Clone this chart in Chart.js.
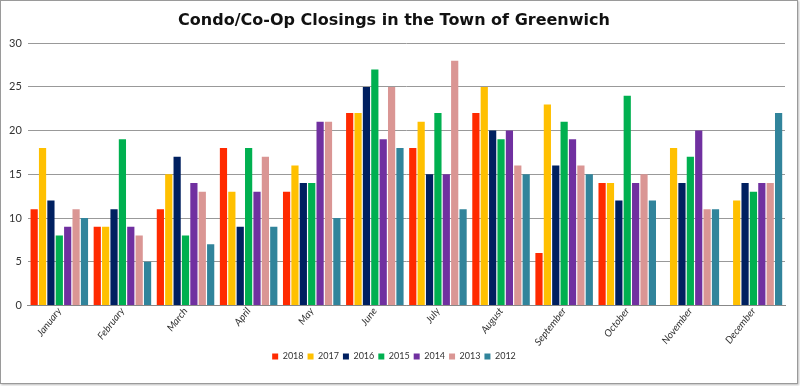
<!DOCTYPE html>
<html>
<head>
<meta charset="utf-8">
<script src="https://cdn.jsdelivr.net/npm/chart.js@4"></script>
<style>
    html, body { margin: 0; padding: 0; background: #fff; }
    #marco {
        position: absolute; left: 0; top: 0;
        width: 796px; height: 382px;
        border: 1px solid #9a9a9a;
        box-shadow: 1px 1px 2px #bbb;
    }
    canvas { display: block; }
</style>
</head>
<body>
<div id="marco"><canvas id="grafico" width="796" height="382"></canvas></div>
<script>
// Datos del gráfico
const meses = ['January', 'February', 'March', 'April', 'May', 'June', 'July', 'August', 'September', 'October', 'November', 'December'];
const anios = ['2018', '2017', '2016', '2015', '2014', '2013', '2012'];
const cierres2018 = [11, 9, 11, 18, 13, 22, 18, 22, 6, 14, null, null];
const cierres2017 = [18, 9, 15, 13, 16, 22, 21, 25, 23, 14, 18, 12];
const cierres2016 = [12, 11, 17, 9, 14, 25, 15, 20, 16, 12, 14, 14];
const cierres2015 = [8, 19, 8, 18, 14, 27, 22, 19, 21, 24, 17, 13];
const cierres2014 = [9, 9, 14, 13, 21, 19, 15, 20, 19, 14, 20, 14];
const cierres2013 = [11, 8, 13, 17, 21, 25, 28, 16, 16, 15, 11, 14];
const cierres2012 = [10, 5, 7, 9, 10, 18, 11, 15, 15, 12, 11, 22];
const ticksY = [0, 5, 10, 15, 20, 25, 30];
const colores = ['#ff2a00', '#ffc000', '#002060', '#00b050', '#7030a0', '#da9694', '#31849b'];

const series = [cierres2018, cierres2017, cierres2016, cierres2015, cierres2014, cierres2013, cierres2012];

const ctx = document.getElementById('grafico').getContext('2d');
new Chart(ctx, {
    type: 'bar',
    data: {
        labels: meses,
        datasets: series.map((valores, i) => ({
            label: anios[i],
            data: valores,
            backgroundColor: colores[i],
            borderWidth: 0,
            barPercentage: 0.86,
            categoryPercentage: 0.93
        }))
    },
    options: {
        responsive: false,
        animation: false,
        layout: { padding: { left: 2, right: 12, top: 4, bottom: 12 } },
        scales: {
            x: {
                grid: { display: false, drawTicks: false },
                border: { color: '#888', width: 1 },
                ticks: {
                    color: '#333',
                    font: { family: 'Lato', style: 'italic', size: 10 },
                    maxRotation: 52, minRotation: 52,
                    padding: 0
                }
            },
            y: {
                min: 0, max: 30,
                afterBuildTicks: (eje) => { eje.ticks = ticksY.map(v => ({ value: v })); },
                grid: { color: '#999', lineWidth: 1, drawTicks: false },
                border: { display: false },
                ticks: {
                    color: '#333',
                    font: { family: 'Lato', size: 11 },
                    padding: 6
                }
            }
        },
        plugins: {
            title: {
                display: true,
                text: 'Condo/Co-Op Closings in the Town of Greenwich',
                color: '#111',
                font: { family: 'DejaVu Sans', weight: 'bold', size: 16 },
                padding: { top: 6, bottom: 13 }
            },
            legend: {
                position: 'bottom',
                labels: {
                    boxWidth: 6, boxHeight: 6,
                    padding: 4,
                    color: '#333',
                    font: { family: 'Lato', size: 9 }
                }
            },
            tooltip: { enabled: false }
        }
    }
});
</script>
</body>
</html>
